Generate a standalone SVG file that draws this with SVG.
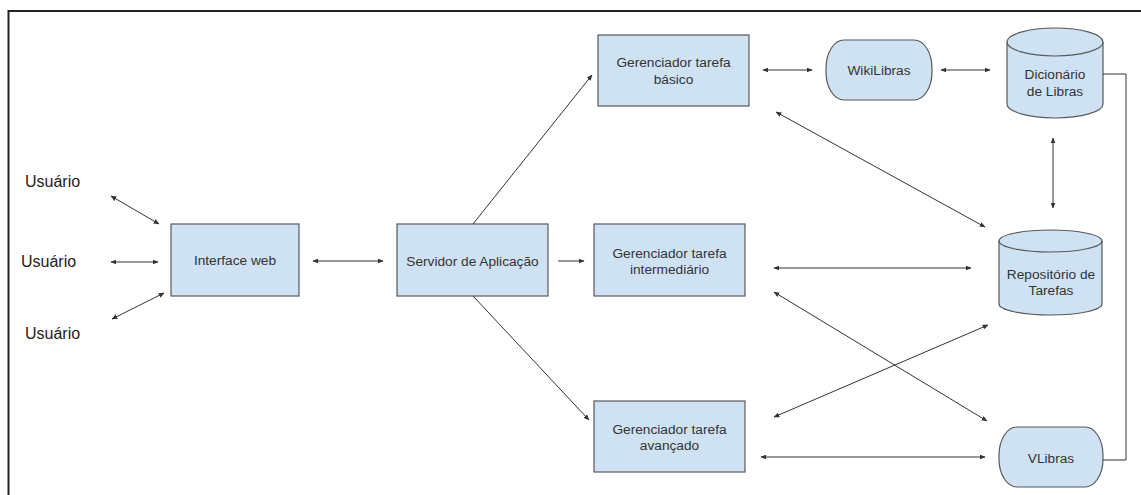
<svg xmlns="http://www.w3.org/2000/svg" width="1141" height="495" viewBox="0 0 1141 495">
<style>
.box{fill:#cfe2f3;stroke:#595959;stroke-width:1.2}
.t{font-family:"Liberation Sans",Arial,sans-serif;font-size:13.7px;fill:#333;text-anchor:middle;dominant-baseline:central}
.u{font-family:"Liberation Sans",Arial,sans-serif;font-size:16px;fill:#222;dominant-baseline:central}
.c{stroke:#333;stroke-width:1;fill:none}
.ab{marker-start:url(#ah);marker-end:url(#ah)}
.ae{marker-end:url(#ah)}
</style>
<defs>
<marker id="ah" viewBox="0 0 10 10" refX="9" refY="5" markerWidth="6" markerHeight="5" markerUnits="userSpaceOnUse" orient="auto-start-reverse" preserveAspectRatio="none">
<path d="M0,0 L10,5 L0,10 Z" fill="#333"/>
</marker>
</defs>
<rect width="1141" height="495" fill="#fff"/>
<path d="M8.5,495 V11 H1141" fill="none" stroke="#222" stroke-width="2"/>

<g id="usuario1"><text class="u" x="25" y="181">Usuário</text></g>
<g id="usuario2"><text class="u" x="21" y="261">Usuário</text></g>
<g id="usuario3"><text class="u" x="25" y="333">Usuário</text></g>

<g id="interface-web"><rect class="box" x="171" y="224" width="128" height="72"/><text class="t" x="235" y="260">Interface web</text></g>
<g id="servidor"><rect class="box" x="397" y="224" width="151" height="72"/><text class="t" x="472.5" y="261">Servidor de Aplicação</text></g>
<g id="ger-basico"><rect class="box" x="598" y="35" width="151" height="71"/><text class="t" x="673.5" y="62">Gerenciador tarefa</text><text class="t" x="673.5" y="79">básico</text></g>
<g id="ger-intermediario"><rect class="box" x="594" y="224" width="151" height="72"/><text class="t" x="669.5" y="253">Gerenciador tarefa</text><text class="t" x="669.5" y="269">intermediário</text></g>
<g id="ger-avancado"><rect class="box" x="594" y="401" width="151" height="71"/><text class="t" x="669.5" y="429">Gerenciador tarefa</text><text class="t" x="669.5" y="445">avançado</text></g>
<g id="wikilibras"><rect class="box" x="826" y="40" width="106" height="60" rx="18" ry="28"/><text class="t" x="879" y="70">WikiLibras</text></g>
<g id="dicionario"><path class="box" d="M1007,42 A48,14 0 0 1 1103,42 L1103,104 A48,14 0 0 1 1007,104 Z"/><path class="box" style="fill:none" d="M1007,42 A48,14 0 0 0 1103,42"/><text class="t" x="1055" y="74">Dicionário</text><text class="t" x="1055" y="91">de Libras</text></g>
<g id="repositorio"><path class="box" d="M999,241 A51.5,11 0 0 1 1102,241 L1102,304 A51.5,11 0 0 1 999,304 Z"/><path class="box" style="fill:none" d="M999,241 A51.5,11 0 0 0 1102,241"/><text class="t" x="1051" y="274">Repositório de</text><text class="t" x="1051" y="290">Tarefas</text></g>
<g id="vlibras"><rect class="box" x="999" y="427" width="104" height="60" rx="18" ry="28"/><text class="t" x="1051" y="458">VLibras</text></g>

<g id="connectors">
<line class="c ab" x1="111" y1="196" x2="159" y2="224"/>
<line class="c ab" x1="111" y1="262" x2="158" y2="262"/>
<line class="c ab" x1="112" y1="319" x2="164" y2="293"/>
<line class="c ab" x1="313" y1="261" x2="383" y2="261"/>
<line class="c ae" x1="473" y1="224" x2="592" y2="75"/>
<line class="c ae" x1="558" y1="261" x2="584" y2="261"/>
<line class="c ae" x1="473" y1="296" x2="589" y2="420"/>
<line class="c ab" x1="763" y1="70" x2="812" y2="70"/>
<line class="c ab" x1="941" y1="70" x2="990" y2="70"/>
<line class="c ab" x1="1053" y1="138" x2="1053" y2="208"/>
<line class="c ab" x1="776" y1="112" x2="985" y2="227"/>
<line class="c ab" x1="774" y1="268" x2="971" y2="268"/>
<line class="c ab" x1="774" y1="292" x2="987" y2="421"/>
<line class="c ab" x1="774" y1="417" x2="988" y2="325"/>
<line class="c ab" x1="761" y1="457" x2="985" y2="457"/>
<path class="c" d="M1103,74 H1126 V460 H1103" stroke="#444"/>
</g>
</svg>
